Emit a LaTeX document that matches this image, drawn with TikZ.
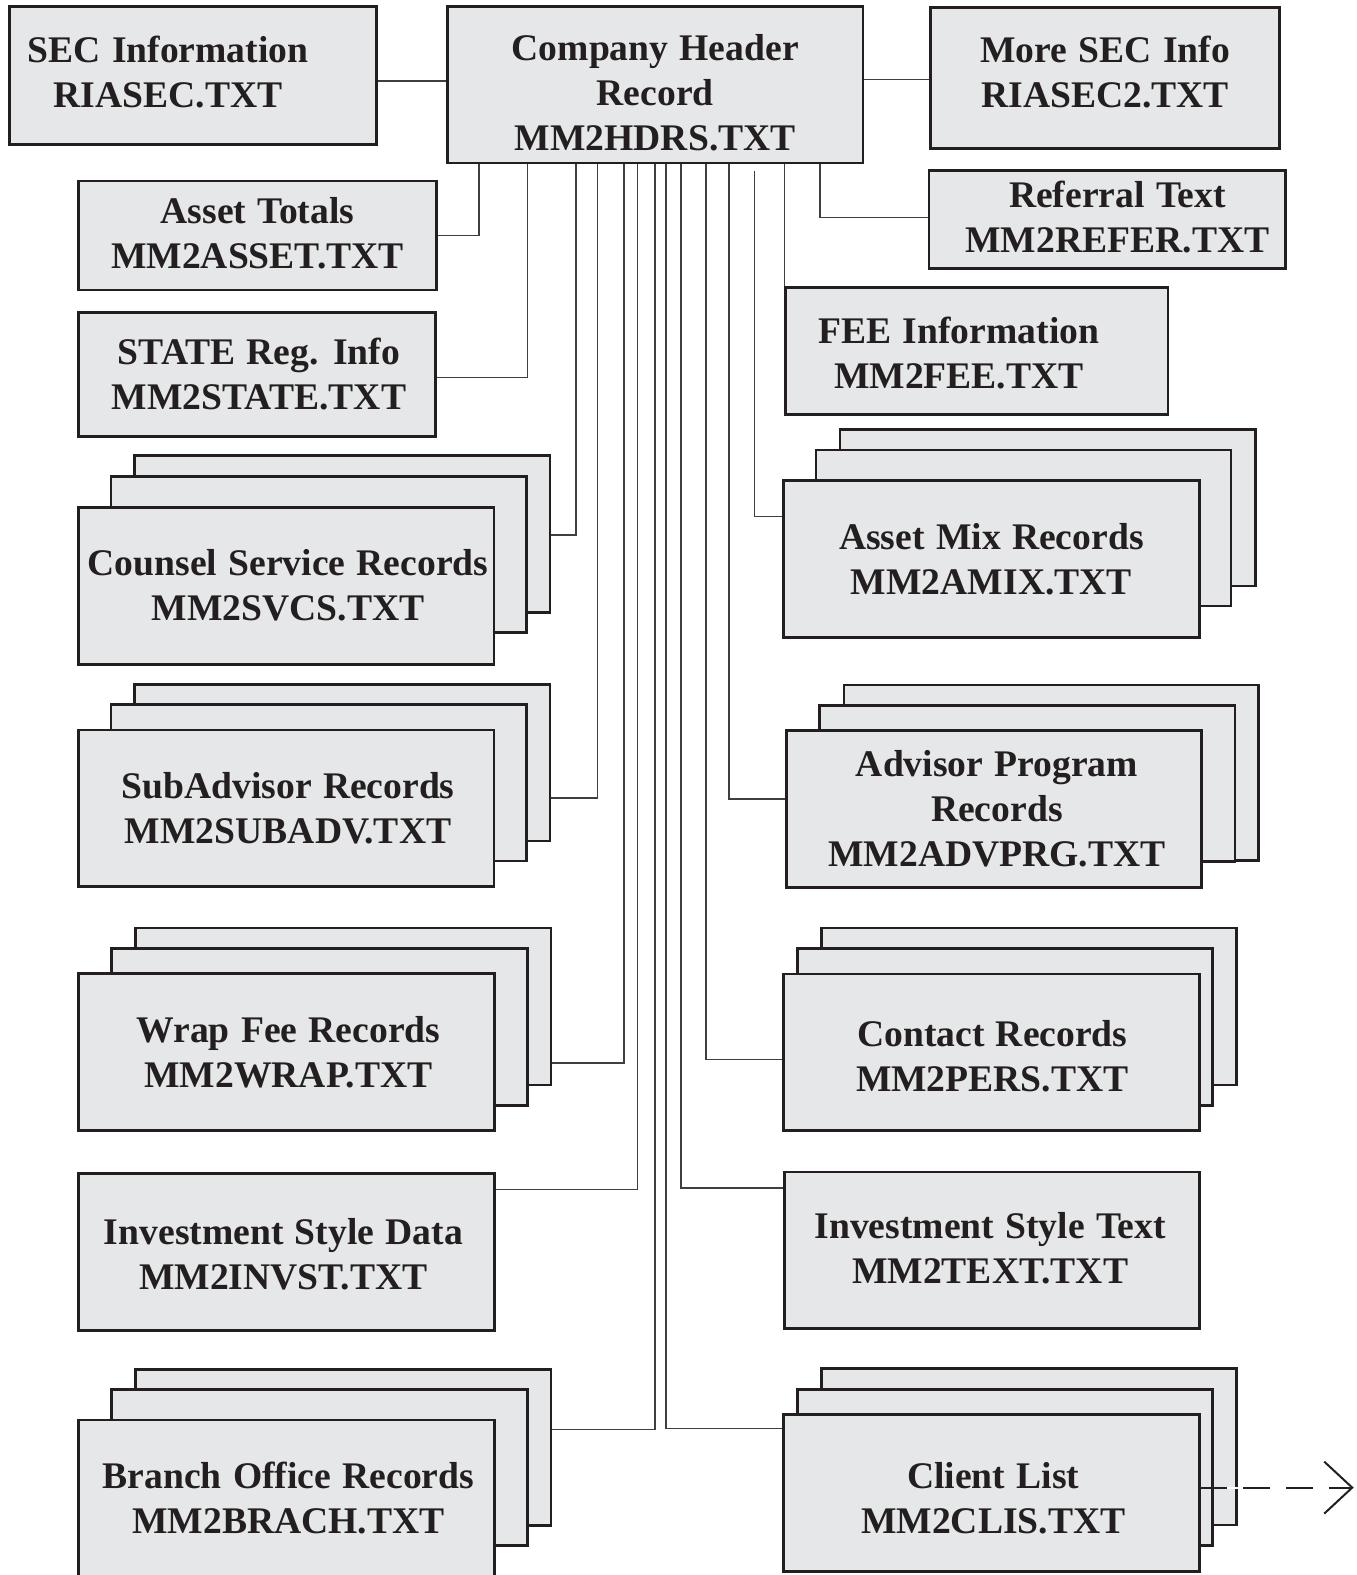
\documentclass[tikz,border=0pt]{standalone}
\usepackage{fontspec}
\setmainfont{Liberation Serif}
\usetikzlibrary{fit,calc,arrows.meta}
\definecolor{boxfill}{HTML}{E6E7E8}
\definecolor{boxline}{HTML}{231F20}
\definecolor{connline}{HTML}{3F3F3F}
\newcommand\boxtextfont{\fontsize{18.8}{22.5}\selectfont\bfseries\spaceskip 0.3em\relax}
\tikzset{
  box/.style={draw=boxline, fill=boxfill, line width=1.4pt, inner sep=0pt, rectangle},
  txt/.style={align=center, inner sep=0pt, text=boxline, font=\boxtextfont},
  conn/.style={draw=connline, line width=0.8pt},
  outarrow/.style={draw=boxline, line width=1pt, dash pattern=on 13.35pt off 8pt,
    -{Straight Barb[length=14pt,width=26pt,line width=1pt]}},
}
\newcommand\mybox[5]{\node[box, fit={(#2,#3)(#4,#5)}] (#1) {};}
\begin{document}
\begin{tikzpicture}[x=0.5pt,y=-0.5pt]
\useasboundingbox (0,0) rectangle (1356,1575);
\clip (0,0) rectangle (1356,1575);

% single boxes
\mybox{sec}{9.3}{6.7}{376.7}{144.3}
\mybox{hdr}{447.5}{6.3}{863}{163}
\mybox{more}{930.7}{7.3}{1279.6}{148.3}
\mybox{asset}{78.3}{181}{436.7}{290}
\mybox{refer}{929}{170.7}{1285.7}{268.3}
\mybox{state}{78.3}{312.3}{435.7}{436.7}
\mybox{fee}{785.7}{287.3}{1168}{414.3}
\mybox{invst}{78.6}{1173.8}{494.2}{1330.5}
\mybox{itext}{784.6}{1172}{1199.7}{1328.8}

% stacks: back, middle, front
\mybox{svcs3}{134.8}{455.7}{550}{612.7}
\mybox{svcs2}{111}{476.7}{526.3}{632.7}
\mybox{svcs}{78.3}{507.7}{493.9}{664.3}

\mybox{amix3}{840}{429.3}{1255.3}{586}
\mybox{amix2}{816}{450}{1231}{606}
\mybox{amix}{783.4}{480.7}{1199.4}{637.7}

\mybox{sub3}{134.8}{684.3}{550}{841}
\mybox{sub2}{111}{704.3}{526.3}{861}
\mybox{sub}{78.3}{730}{493.9}{886.7}

\mybox{adv3}{843.9}{685}{1258.7}{860.7}
\mybox{adv2}{819.8}{705.3}{1235}{861.7}
\mybox{adv}{786.1}{730.7}{1201.7}{887.3}

\mybox{wrap3}{135.3}{928}{550.9}{1085}
\mybox{wrap2}{111.6}{948.2}{527.2}{1105.3}
\mybox{wrap}{78.6}{973.2}{494.2}{1130.7}

\mybox{pers3}{821.5}{928}{1236.7}{1085}
\mybox{pers2}{797.2}{948.2}{1212.8}{1105.3}
\mybox{pers}{783.3}{974}{1199.3}{1130.7}

\mybox{brach3}{135.3}{1369.2}{550.9}{1525.5}
\mybox{brach2}{111.6}{1389.4}{527.2}{1545.7}
\mybox{brach}{78.6}{1420}{494.2}{1577}

\mybox{clis3}{821.5}{1368.4}{1236.7}{1525}
\mybox{clis2}{797.2}{1389.4}{1212.8}{1545.7}
\mybox{clis}{783.3}{1414.4}{1199.3}{1571.5}

% texts
\node[txt] (sec-t)   at ($(sec)+(-25,-3)$) {SEC Information\\RIASEC.TXT};
\node[txt] (hdr-t)   at ($(hdr)+(0,8)$) {Company Header\\Record\\MM2HDRS.TXT};
\node[txt] (more-t)  at ($(more)+(0,-6)$) {More SEC Info\\RIASEC2.TXT};
\node[txt] (asset-t) at ($(asset)+(0,-2)$) {Asset Totals\\MM2ASSET.TXT};
\node[txt] (refer-t) at ($(refer)+(10,-2)$) {Referral Text\\MM2REFER.TXT};
\node[txt] (state-t) at ($(state)+(2,0)$) {STATE Reg. Info\\MM2STATE.TXT};
\node[txt] (fee-t)   at ($(fee)+(-18,2)$) {FEE Information\\MM2FEE.TXT};
\node[txt] (svcs-t)  at ($(svcs)+(2,-1)$) {Counsel Service Records\\MM2SVCS.TXT};
\node[txt] (amix-t)  at (amix) {Asset Mix Records\\MM2AMIX.TXT};
\node[txt] (sub-t)   at ($(sub)+(2,0)$) {SubAdvisor Records\\MM2SUBADV.TXT};
\node[txt] (adv-t)   at ($(adv)+(3,0)$) {Advisor Program\\Records\\MM2ADVPRG.TXT};
\node[txt] (wrap-t)  at ($(wrap)+(2,0)$) {Wrap Fee Records\\MM2WRAP.TXT};
\node[txt] (pers-t)  at ($(pers)+(1,4)$) {Contact Records\\MM2PERS.TXT};
\node[txt] (invst-t) at ($(invst)+(-3,2)$) {Investment Style Data\\MM2INVST.TXT};
\node[txt] (itext-t) at ($(itext)+(-2,-2)$) {Investment Style Text\\MM2TEXT.TXT};
\node[txt] (brach-t) at ($(brach)+(2,0)$) {Branch Office Records\\MM2BRACH.TXT};
\node[txt] (clis-t)  at ($(clis)+(2,5)$) {Client List\\MM2CLIS.TXT};

% connectors
\draw[conn] (sec.east |- 0,80.7) -- (hdr.west |- 0,80.7);
\draw[conn] (hdr.east |- 0,79.3) -- (more.west |- 0,79.3);
\draw[conn] (hdr.south -| 478.7,0) |- (asset.east);
\draw[conn] (hdr.south -| 527.3,0) |- (state.east |- 0,377.3);
\draw[conn] (hdr.south -| 576,0) |- (svcs3.east |- 0,535);
\draw[conn] (hdr.south -| 597.5,0) |- (sub3.east |- 0,797.7);
\draw[conn] (hdr.south -| 624,0) |- (wrap3.east |- 0,1062.7);
\draw[conn] (hdr.south -| 637.5,0) |- (invst.east |- 0,1189.3);
\draw[conn] (hdr.south -| 654.8,0) |- (brach3.east |- 0,1429.5);
\draw[conn] (hdr.south -| 665.7,0) |- (clis.west |- 0,1428.6);
\draw[conn] (hdr.south -| 681,0) |- (itext.west |- 0,1188);
\draw[conn] (hdr.south -| 705.7,0) |- (pers.west |- 0,1059.3);
\draw[conn] (hdr.south -| 728.7,0) |- (adv.west |- 0,799);
\draw[conn] ($(hdr.south -| 754.5,0)+(0,7)$) |- (amix.west |- 0,516.5);
\draw[conn] (hdr.south -| fee.north west) -- (fee.north west);
\draw[conn] (hdr.south -| 820.2,0) |- (refer.west |- 0,217.3);

% outgoing dashed arrow
\coordinate (out) at (1353.7,1487.6);
\draw[white, line width=1pt] (clis.east |- out) -- (out);
\draw[outarrow] (clis.east |- out) -- (out);
\end{tikzpicture}
\end{document}
